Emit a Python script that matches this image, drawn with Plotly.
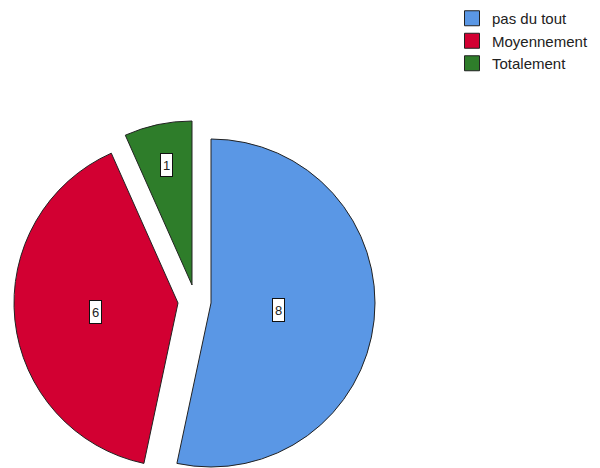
import math
import plotly.graph_objects as go

# Data
labels = ["pas du tout", "Moyennement", "Totalement"]
values = [8, 6, 1]
colors = ["#5A97E5", "#D20032", "#2E7D2A"]

# Layout / styling
W, H = 600, 468
R = 164                      # pie radius in px
base_center = (211, 303)     # centre of the un-exploded pie (px)
explode = [(0, 0), (-33, 0), (-19, -18)]   # per-slice offsets (px)
label_frac = [0.415, 0.505, 0.75]          # label distance as fraction of radius
edge = "#222222"
font_family = "Liberation Sans, Arial, sans-serif"

fig = go.Figure()

total = sum(values)
cum = 0
annotations = []
for i, (lab, val) in enumerate(zip(labels, values)):
    cx = base_center[0] + explode[i][0]
    cy = base_center[1] + explode[i][1]
    slice_colors = [c if j == i else "rgba(0,0,0,0)" for j, c in enumerate(colors)]
    line_w = [1 if j == i else 0 for j in range(len(values))]
    fig.add_trace(go.Pie(
        labels=labels,
        values=values,
        sort=False,
        direction="clockwise",
        rotation=0,
        marker=dict(colors=slice_colors, line=dict(color=edge, width=line_w)),
        textinfo="none",
        hoverinfo="label+value",
        showlegend=False,
        domain=dict(x=[(cx - R) / W, (cx + R) / W],
                    y=[1 - (cy + R) / H, 1 - (cy - R) / H]),
    ))
    # value label at the slice's mid-angle
    mid = (cum + val / 2) / total * 2 * math.pi
    cum += val
    d = label_frac[i] * R
    lx = cx + d * math.sin(mid)
    ly = cy - d * math.cos(mid)
    annotations.append(dict(
        x=lx / W, y=1 - ly / H, xref="paper", yref="paper",
        xanchor="center", yanchor="middle",
        text=str(val), showarrow=False,
        font=dict(family=font_family, size=13, color="#222222"),
        bgcolor="white", bordercolor="#111111", borderwidth=1,
        borderpad=1, width=9, height=20,
    ))

# Legend entries as square markers
for lab, c in zip(labels, colors):
    fig.add_trace(go.Scatter(
        x=[None], y=[None], mode="markers", name=lab,
        marker=dict(symbol="square", size=15, color=c,
                    line=dict(color=edge, width=1)),
        showlegend=True,
    ))

fig.update_layout(
    width=W, height=H,
    margin=dict(l=0, r=0, t=0, b=0),
    paper_bgcolor="white", plot_bgcolor="white",
    xaxis=dict(visible=False), yaxis=dict(visible=False),
    annotations=annotations,
    showlegend=True,
    legend=dict(
        x=452 / W, y=1 - 2 / H, xanchor="left", yanchor="top",
        font=dict(family=font_family, size=15, color="#222222"),
        bgcolor="rgba(0,0,0,0)", borderwidth=0,
        tracegroupgap=0, itemwidth=30,
    ),
)

fig.write_html("out.html")
